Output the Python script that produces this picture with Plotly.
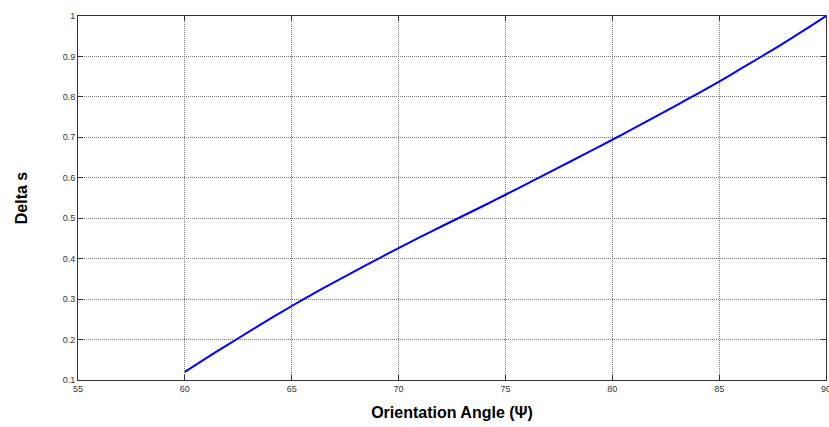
import plotly.graph_objects as go

angle = [60, 61, 62, 63, 64, 65, 66, 67, 68, 69, 70, 71, 72, 73, 74, 75,
         76, 77, 78, 79, 80, 81, 82, 83, 84, 85, 86, 87, 88, 89, 90]
delta_s = [0.120, 0.154, 0.187, 0.2195, 0.2515, 0.283, 0.313, 0.342, 0.3705, 0.3985,
           0.426, 0.453, 0.4795, 0.5055, 0.5315, 0.558, 0.585, 0.612, 0.639, 0.6665,
           0.694, 0.722, 0.7505, 0.7793, 0.8083, 0.838, 0.869, 0.9005, 0.9325, 0.9655, 1.000]

x_ticks = [55, 60, 65, 70, 75, 80, 85, 90]
y_ticks = [0.1, 0.2, 0.3, 0.4, 0.5, 0.6, 0.7, 0.8, 0.9, 1.0]
y_tick_text = ["0.1", "0.2", "0.3", "0.4", "0.5", "0.6", "0.7", "0.8", "0.9", "1"]

fig = go.Figure()
fig.add_trace(go.Scatter(x=angle, y=delta_s, mode="lines",
                         line=dict(color="#0000ff", width=2, shape="spline", smoothing=0.6),
                         showlegend=False, cliponaxis=False))

axis_common = dict(
    showline=True, linecolor="#333333", linewidth=1, mirror="ticks",
    ticks="inside", ticklen=5, tickcolor="#333333",
    showgrid=True, gridcolor="#777777", griddash="1px,1px", gridwidth=1,
    zeroline=False, automargin=False, ticklabeloverflow="allow",
    tickfont=dict(family="Arial, Liberation Sans, sans-serif", size=9, color="#333333"),
)

fig.update_layout(
    width=829, height=427,
    margin=dict(l=78, r=3, t=16, b=47),
    paper_bgcolor="white", plot_bgcolor="white",
    xaxis=dict(range=[55, 90], tickvals=x_ticks,
               title=dict(text="<b>Orientation Angle (Ψ)</b>",
                          font=dict(family="Arial, Liberation Sans, sans-serif", size=16, color="#000"),
                          standoff=14),
               **axis_common),
    yaxis=dict(range=[0.1, 1.0], tickvals=y_ticks, ticktext=y_tick_text,
               title=dict(text="<b>Delta s</b>",
                          font=dict(family="Arial, Liberation Sans, sans-serif", size=16, color="#000"),
                          standoff=31),
               **axis_common),
)

fig.write_html("out.html", config={"displayModeBar": False},
               post_script="document.body.style.margin='0';document.body.style.overflow='hidden';")
